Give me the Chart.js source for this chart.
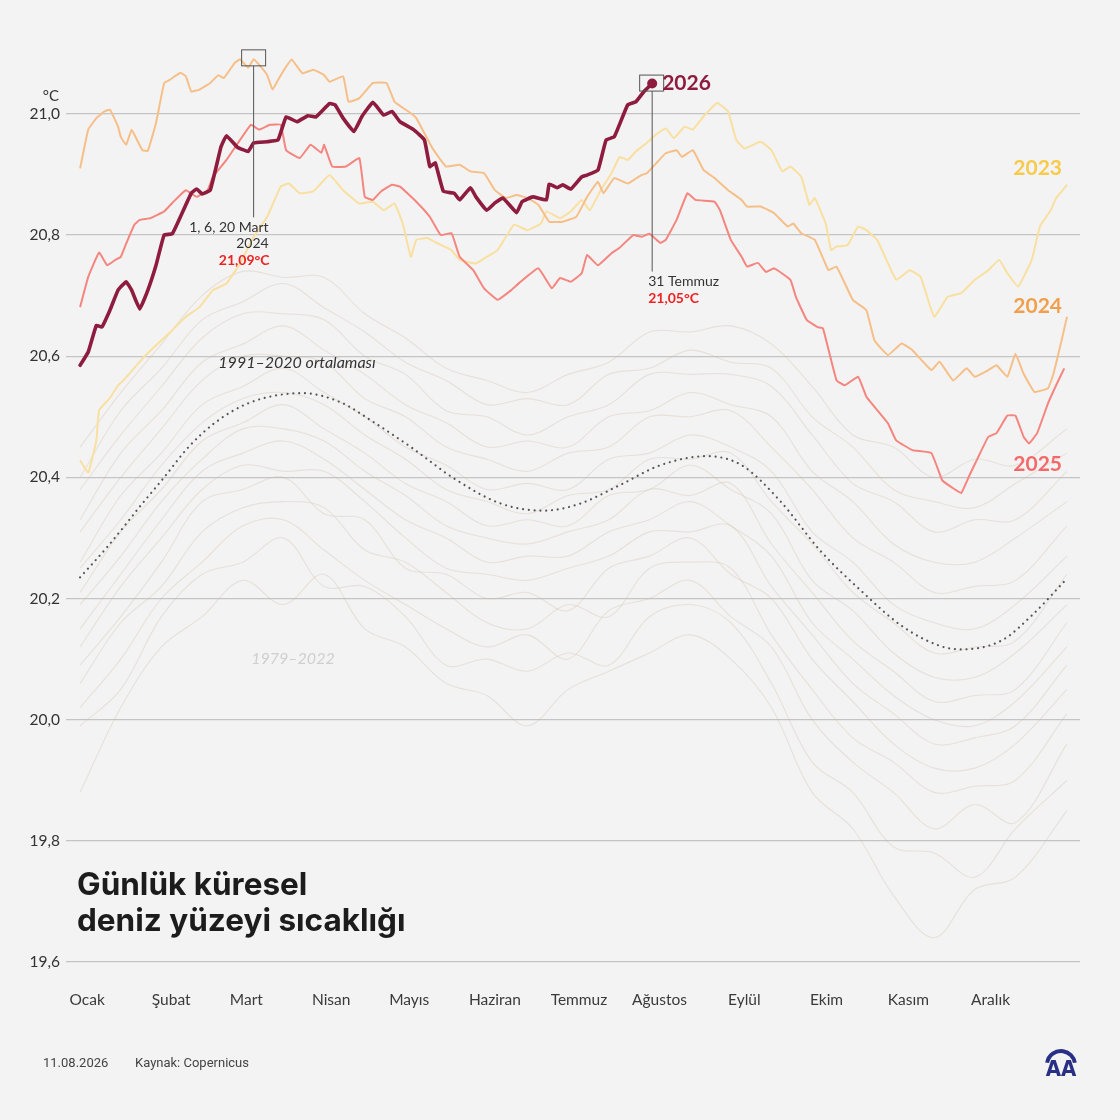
<!DOCTYPE html>
<html><head><meta charset="utf-8">
<script src="https://cdn.jsdelivr.net/npm/chart.js@4.4.1/dist/chart.umd.min.js"></script>
<style>
html,body{margin:0;padding:0;background:#f3f3f3;}
#wrap{position:relative;width:1120px;height:1120px;overflow:hidden;}
canvas{position:absolute;left:0;top:0;}
</style></head><body><div id="wrap"><canvas id="c" width="1120" height="1120"></canvas></div>
<script>
// ---- axis definitions ----
const monthLabels = ['Ocak','Şubat','Mart','Nisan','Mayıs','Haziran','Temmuz','Ağustos','Eylül','Ekim','Kasım','Aralık'];
const monthTickDays = [2.6,33.6,61.3,92.6,121.4,153,184,213.7,245,275.3,305.5,335.8];
const yTicks = [19.6,19.8,20.0,20.2,20.4,20.6,20.8,21.0];

// ---- series: [dayOfYear, °C] ----
const y2026 = [[0,20.585],[3,20.607],[6,20.651],[8,20.648],[11,20.676],[14,20.709],[17,20.723],[19,20.709],[22,20.678],[25,20.709],
[28,20.750],[31,20.800],[34,20.802],[37,20.830],[41,20.869],[43,20.876],[45,20.868],[48,20.874],[52,20.946],[54,20.964],
[58,20.945],[62,20.938],[64,20.952],[69,20.954],[73,20.957],[76,20.995],[80,20.987],[84,20.997],[87,20.995],[92,21.017],
[94,21.015],[97,20.993],[101,20.971],[104,20.996],[108,21.019],[112,20.998],[115,21.004],[118,20.987],[123,20.974],[127,20.957],
[129,20.913],[131,20.919],[134,20.872],[138,20.869],[140,20.858],[144,20.878],[146,20.863],[150,20.841],[153,20.853],[156,20.861],
[161,20.837],[163,20.855],[167,20.863],[172,20.858],[173,20.884],[176,20.878],[178,20.883],[181,20.876],[185,20.896],[187,20.899],
[191,20.907],[194,20.957],[197,20.962],[202,21.015],[205,21.020],[208,21.037],[211,21.050]];

const y2025 = [[0,20.681],[3,20.731],[7,20.771],[10,20.750],[13,20.759],[15,20.764],[17,20.786],[20,20.817],[22,20.825],[26,20.828],
[31,20.839],[34,20.853],[39,20.874],[43,20.863],[47,20.874],[49,20.896],[54,20.924],[59,20.957],[63,20.982],[66,20.974],
[70,20.982],[74,20.982],[76,20.940],[81,20.927],[85,20.949],[89,20.936],[90,20.949],[93,20.913],[98,20.913],[103,20.927],
[105,20.863],[108,20.858],[111,20.872],[115,20.883],[118,20.880],[124,20.855],[129,20.830],[133,20.800],[137,20.803],[140,20.764],
[145,20.742],[149,20.712],[154,20.693],[159,20.709],[162,20.721],[169,20.745],[174,20.712],[177,20.729],[181,20.723],[185,20.737],
[187,20.767],[191,20.750],[196,20.770],[199,20.779],[204,20.800],[207,20.797],[210,20.802],[214,20.787],[216,20.792],[220,20.825],
[224,20.869],[227,20.858],[234,20.855],[236,20.841],[240,20.792],[244,20.764],[246,20.748],[250,20.754],[253,20.739],[256,20.745],
[262,20.726],[264,20.698],[268,20.660],[272,20.648],[274,20.646],[279,20.560],[282,20.552],[287,20.566],[290,20.533],[294,20.511],
[298,20.489],[301,20.461],[307,20.445],[314,20.440],[318,20.395],[322,20.382],[325,20.374],[328,20.403],[331,20.431],[335,20.467],
[338,20.473],[342,20.502],[345,20.502],[348,20.467],[350,20.456],[353,20.473],[357,20.522],[360,20.552],[363,20.580]];

const y2024 = [[0,20.910],[3,20.974],[6,20.993],[9,21.004],[11,21.007],[14,20.979],[15,20.962],[17,20.949],[19,20.974],[21,20.957],
[23,20.940],[25,20.939],[28,20.985],[31,21.051],[33,21.056],[37,21.068],[39,21.062],[41,21.037],[44,21.040],[48,21.051],
[51,21.064],[53,21.059],[57,21.084],[59,21.090],[62,21.076],[64,21.090],[67,21.076],[69,21.064],[71,21.040],[73,21.056],
[76,21.078],[78,21.090],[82,21.067],[86,21.073],[90,21.064],[92,21.053],[97,21.062],[99,21.020],[103,21.026],[108,21.051],
[113,21.051],[116,21.020],[122,21.001],[124,20.993],[127,20.968],[130,20.943],[135,20.913],[140,20.916],[144,20.905],[149,20.902],
[153,20.874],[157,20.861],[161,20.866],[165,20.861],[169,20.850],[173,20.822],[178,20.822],[183,20.830],[187,20.863],[191,20.888],
[193,20.869],[197,20.894],[202,20.885],[207,20.899],[209,20.902],[213,20.921],[216,20.935],[220,20.940],[222,20.929],[226,20.940],
[230,20.907],[234,20.894],[239,20.874],[244,20.858],[246,20.847],[251,20.847],[256,20.836],[261,20.814],[263,20.819],[266,20.803],
[271,20.792],[276,20.742],[279,20.748],[285,20.693],[290,20.676],[293,20.626],[298,20.602],[303,20.621],[307,20.610],[314,20.577],
[317,20.591],[322,20.560],[327,20.580],[330,20.566],[335,20.577],[338,20.585],[342,20.566],[345,20.604],[348,20.571],[352,20.541],
[357,20.547],[359,20.571],[362,20.626],[364,20.665]];

const y2023 = [[0,20.428],[3,20.408],[6,20.461],[7,20.511],[11,20.531],[14,20.552],[16,20.560],[23,20.596],[28,20.618],[34,20.643],
[39,20.665],[44,20.681],[49,20.709],[54,20.720],[59,20.753],[64,20.797],[69,20.830],[74,20.880],[77,20.885],[81,20.869],
[86,20.872],[92,20.899],[97,20.874],[103,20.852],[108,20.855],[112,20.841],[116,20.852],[119,20.819],[122,20.764],[124,20.792],
[128,20.795],[132,20.786],[137,20.775],[140,20.759],[146,20.753],[150,20.764],[154,20.775],[160,20.817],[165,20.808],[170,20.819],
[172,20.839],[177,20.828],[181,20.839],[185,20.858],[188,20.841],[192,20.874],[196,20.902],[199,20.929],[202,20.924],[205,20.938],
[209,20.952],[213,20.968],[216,20.976],[219,20.960],[223,20.979],[226,20.974],[230,20.996],[235,21.018],[239,21.004],[242,20.957],
[245,20.943],[251,20.954],[255,20.940],[259,20.905],[262,20.913],[266,20.896],[269,20.850],[271,20.861],[275,20.819],[277,20.775],
[279,20.781],[283,20.783],[287,20.814],[290,20.808],[294,20.792],[301,20.726],[306,20.742],[310,20.731],[315,20.665],[320,20.698],
[325,20.704],[330,20.726],[335,20.742],[339,20.759],[342,20.737],[346,20.715],[351,20.759],[354,20.814],[358,20.841],[360,20.861],
[364,20.883]];

const avg1991_2020 = [[0,20.235],[10,20.285],[23,20.357],[31,20.400],[40,20.450],[50,20.491],[63,20.524],[82,20.539],[96,20.524],[109,20.489],
[122,20.450],[138,20.398],[155,20.357],[171,20.345],[184,20.356],[199,20.387],[214,20.420],[231,20.435],[244,20.420],[258,20.362],
[273,20.279],[288,20.213],[303,20.155],[317,20.122],[325,20.116],[340,20.131],[351,20.172],[364,20.233]];

// ---- 1979–2022 background years (sampled every ~15 days) ----
const bgDays = [0,15,30,45,60,75,90,105,120,135,150,165,180,195,210,225,240,255,270,285,300,315,330,345,364];
const bg01 = [19.88,20.02,20.12,20.17,20.23,20.19,20.24,20.15,20.12,20.06,20.04,19.99,20.05,20.08,20.11,20.14,20.10,20.02,19.88,19.82,19.71,19.64,19.72,19.74,19.85];
const bg02 = [19.99,20.05,20.17,20.24,20.26,20.30,20.22,20.22,20.17,20.09,20.10,20.08,20.11,20.09,20.17,20.19,20.16,20.06,19.93,19.88,19.79,19.78,19.74,19.82,19.90];
const bg03 = [20.02,20.10,20.20,20.26,20.32,20.33,20.28,20.23,20.19,20.15,20.12,20.14,20.10,20.18,20.20,20.23,20.17,20.12,20.00,19.93,19.88,19.82,19.86,19.83,19.96];
const bg04 = [20.06,20.16,20.22,20.31,20.35,20.36,20.35,20.28,20.26,20.21,20.16,20.15,20.19,20.17,20.25,20.26,20.25,20.14,20.05,19.97,19.93,19.88,19.89,19.90,20.01];
const bg05 = [20.09,20.17,20.26,20.36,20.38,20.40,20.34,20.33,20.25,20.24,20.20,20.21,20.18,20.25,20.27,20.30,20.24,20.20,20.10,20.03,19.96,19.92,19.92,19.96,20.05];
const bg06 = [20.12,20.22,20.30,20.38,20.42,20.41,20.41,20.36,20.30,20.25,20.24,20.23,20.25,20.27,20.31,20.31,20.32,20.22,20.14,20.06,20.01,19.96,19.97,19.99,20.09];
const bg07 = [20.15,20.24,20.33,20.41,20.44,20.46,20.43,20.38,20.33,20.30,20.26,20.27,20.27,20.31,20.33,20.36,20.32,20.27,20.16,20.10,20.04,20.00,19.99,20.03,20.12];
const bg08 = [20.19,20.27,20.36,20.43,20.48,20.48,20.46,20.41,20.37,20.32,20.30,20.29,20.31,20.33,20.38,20.37,20.39,20.29,20.21,20.13,20.08,20.03,20.04,20.05,20.16];
const bg09 = [20.21,20.31,20.38,20.46,20.49,20.52,20.48,20.44,20.39,20.36,20.32,20.33,20.32,20.37,20.38,20.42,20.38,20.34,20.23,20.18,20.11,20.07,20.07,20.11,20.19];
const bg10 = [20.25,20.33,20.42,20.49,20.53,20.54,20.52,20.47,20.43,20.38,20.36,20.34,20.37,20.38,20.43,20.43,20.44,20.36,20.29,20.21,20.16,20.11,20.12,20.13,20.24];
const bg11 = [20.26,20.37,20.44,20.52,20.55,20.58,20.54,20.50,20.45,20.42,20.38,20.39,20.38,20.43,20.44,20.47,20.45,20.41,20.31,20.26,20.19,20.16,20.15,20.19,20.27];
const bg12 = [20.31,20.40,20.48,20.56,20.60,20.60,20.59,20.53,20.50,20.45,20.43,20.41,20.44,20.45,20.50,20.50,20.51,20.45,20.38,20.30,20.26,20.21,20.22,20.23,20.32];
const bg13 = [20.33,20.44,20.51,20.59,20.62,20.65,20.61,20.57,20.52,20.49,20.45,20.46,20.45,20.50,20.51,20.54,20.52,20.50,20.41,20.36,20.29,20.26,20.26,20.30,20.36];
const bg14 = [20.38,20.47,20.55,20.63,20.67,20.67,20.66,20.60,20.57,20.51,20.50,20.47,20.50,20.52,20.57,20.57,20.57,20.55,20.47,20.39,20.36,20.31,20.33,20.33,20.41];
const bg15 = [20.40,20.51,20.58,20.66,20.69,20.72,20.68,20.64,20.59,20.56,20.52,20.53,20.52,20.57,20.58,20.61,20.59,20.58,20.50,20.45,20.38,20.36,20.35,20.39,20.44];
const bg16 = [20.45,20.54,20.62,20.70,20.74,20.73,20.73,20.67,20.63,20.58,20.56,20.54,20.57,20.59,20.64,20.64,20.65,20.62,20.55,20.47,20.45,20.40,20.43,20.42,20.48];
const bgYears = [bg01,bg02,bg03,bg04,bg05,bg06,bg07,bg08,bg09,bg10,bg11,bg12,bg13,bg14,bg15,bg16];

// annotation anchors
const peak2024 = {day:64, value:21.09, text:['1, 6, 20 Mart','2024'], label:'21,09°C'};
const last2026 = {day:211, value:21.05, text:'31 Temmuz', label:'21,05°C'};

const pts = arr => arr.map(p => ({x:p[0], y:p[1]}));
const COL = {y2026:'#8e1c3e', y2025:'#f5857f', y2024:'#f6bf88', y2023:'#f9e0a0'};

const datasets = [
  {label:'2026', data:pts(y2026), borderColor:COL.y2026, borderWidth:3.6, order:0, tension:0.1, borderJoinStyle:'round', borderCapStyle:'round'},
  {label:'2025', data:pts(y2025), borderColor:COL.y2025, borderWidth:2, order:1, tension:0.1},
  {label:'2024', data:pts(y2024), borderColor:COL.y2024, borderWidth:2, order:2, tension:0.1},
  {label:'2023', data:pts(y2023), borderColor:COL.y2023, borderWidth:2, order:3, tension:0.1},
  {label:'1991–2020', data:pts(avg1991_2020), borderColor:'#555555', borderWidth:2.2, borderDash:[0.01,5.8], borderCapStyle:'round', order:4, cubicInterpolationMode:'monotone'}
];
bgYears.forEach((vals,i) => datasets.push({
  label:'bg'+i, data:bgDays.map((d,j)=>({x:d,y:vals[j]})), borderColor:'rgba(205,188,165,0.32)', borderWidth:1.1, order:10+i, tension:0.35
}));

const FONT = 'Lato, "Noto Sans", sans-serif';

const annot = {
  id:'annot',
  afterDraw(chart){
    const {ctx, scales:{x,y}, chartArea} = chart;
    ctx.save();
    ctx.fillStyle='#333'; ctx.font='15px '+FONT; ctx.textAlign='right'; ctx.textBaseline='middle';
    ctx.fillText('°C', chartArea.left-7, y.getPixelForValue(21.0)-18);

    // 2024 peak
    let px = x.getPixelForValue(peak2024.day), py = y.getPixelForValue(peak2024.value);
    ctx.strokeStyle='#555'; ctx.lineWidth=1;
    ctx.strokeRect(px-12, py-9.5, 24, 16);
    ctx.beginPath(); ctx.moveTo(px, py+6.5); ctx.lineTo(px, py+158); ctx.stroke();
    ctx.textAlign='right'; ctx.fillStyle='#333'; ctx.font='14px '+FONT;
    ctx.fillText(peak2024.text[0], px+15, py+168);
    ctx.fillText(peak2024.text[1], px+15, py+184);
    ctx.fillStyle='#ee2222'; ctx.font='bold 14px '+FONT;
    ctx.fillText(peak2024.label, px+16, py+201);

    // 2026 last point
    px = x.getPixelForValue(last2026.day); py = y.getPixelForValue(last2026.value);
    ctx.strokeStyle='#555';
    ctx.strokeRect(px-12.5, py-8.5, 24, 16);
    ctx.beginPath(); ctx.moveTo(px, py+7.5); ctx.lineTo(px, py+188); ctx.stroke();
    ctx.fillStyle=COL.y2026; ctx.beginPath(); ctx.arc(px, py, 5, 0, Math.PI*2); ctx.fill();
    ctx.font='bold 21px '+FONT; ctx.textAlign='left';
    ctx.fillText('2026', px+10, py);
    ctx.fillStyle='#333'; ctx.font='14px '+FONT;
    ctx.fillText(last2026.text, px-4, py+198);
    ctx.fillStyle='#ee2222'; ctx.font='bold 14px '+FONT;
    ctx.fillText(last2026.label, px-4, py+215);

    // year labels at right
    ctx.textAlign='right'; ctx.font='bold 21px '+FONT;
    const rx = x.getPixelForValue(364)-5;
    ctx.fillStyle='#f6cb4c'; ctx.fillText('2023', rx, y.getPixelForValue(20.91));
    ctx.fillStyle='#f0a04c'; ctx.fillText('2024', rx, y.getPixelForValue(20.682));
    ctx.fillStyle='#f46a6a'; ctx.fillText('2025', rx, y.getPixelForValue(20.421));

    // average / bg labels
    ctx.textAlign='center'; ctx.font='italic 16px '+FONT;
    ctx.fillStyle='#333'; ctx.fillText('1991–2020 ortalaması', x.getPixelForValue(80), y.getPixelForValue(20.589));
    ctx.fillStyle='#cfcfcf'; ctx.fillText('1979–2022', x.getPixelForValue(78.5), y.getPixelForValue(20.1));

    // title
    ctx.textAlign='left'; ctx.textBaseline='alphabetic'; ctx.fillStyle='#1c1c1c';
    ctx.font='bold 31.5px Inter, Lato, sans-serif';
    ctx.fillText('Günlük küresel', 77, 895);
    ctx.fillText('deniz yüzeyi sıcaklığı', 77, 931);

    // footer
    ctx.textBaseline='middle'; ctx.fillStyle='#444'; ctx.font='13px Roboto, sans-serif';
    ctx.fillText('11.08.2026', 43, 1064);
    ctx.fillText('Kaynak: Copernicus', 135, 1064);

    // AA logo
    const lx=1061, ly=1063;
    ctx.strokeStyle='#2a2f86'; ctx.lineWidth=4;
    ctx.beginPath(); ctx.arc(lx, ly+2, 14, Math.PI*1.05, Math.PI*1.95); ctx.stroke();
    ctx.fillStyle='#2a2f86'; ctx.font='bold 22px "Liberation Sans Narrow", "DejaVu Sans Condensed", sans-serif';
    ctx.textAlign='center'; ctx.fillText('AA', lx, ly+7);
    ctx.restore();
  }
};

new Chart(document.getElementById('c'), {
  type:'line',
  data:{datasets},
  plugins:[annot],
  options:{
    responsive:false, animation:false, events:[],
    layout:{padding:{top:23, right:40, left:0, bottom:0}},
    elements:{point:{radius:0}},
    plugins:{legend:{display:false}, tooltip:{enabled:false}},
    scales:{
      x:{type:'linear', min:-5.2, max:368.8,
        grid:{display:false}, border:{display:false},
        afterBuildTicks: s => { s.ticks = monthTickDays.map(v=>({value:v})); },
        afterFit: s => { s.height = 158; },
        ticks:{autoSkip:false, maxRotation:0, padding:21, color:'#3a3a3a', font:{family:FONT, size:15.5},
          callback:(v,i)=>monthLabels[i]}
      },
      y:{type:'linear', min:19.6, max:21.15,
        grid:{color:'#c4c4c4', lineWidth:1.3, drawTicks:false}, border:{display:false},
        afterBuildTicks: s => { s.ticks = yTicks.map(v=>({value:v})); },
        afterFit: s => { s.width = 66; },
        ticks:{padding:6, color:'#333', font:{family:FONT, size:15.5},
          callback:v=>v.toFixed(1).replace('.',',')}
      }
    }
  }
});
</script></body></html>
